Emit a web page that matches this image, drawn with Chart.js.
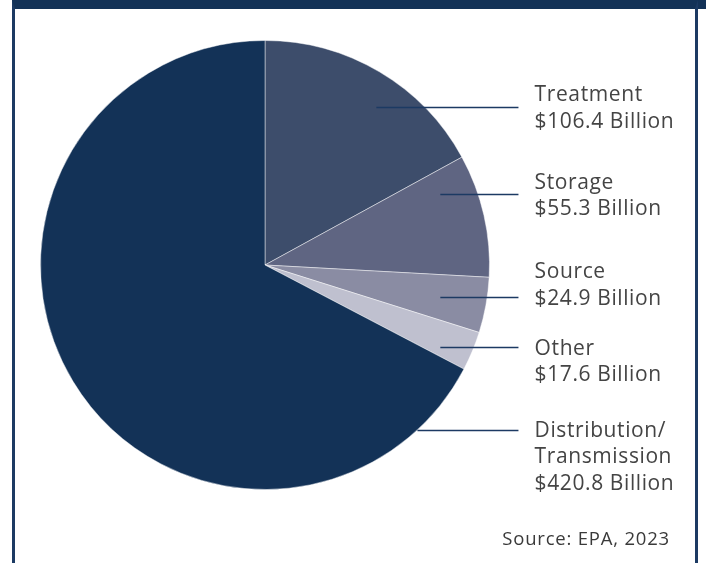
<!DOCTYPE html>
<html>
<head>
<meta charset="utf-8">
<script src="https://cdn.jsdelivr.net/npm/chart.js@4"></script>
<style>
  html, body { margin: 0; padding: 0; background: #fff; }
  #wrap { position: relative; width: 706px; height: 563px; overflow: hidden; }
  #frame {
    position: absolute; left: 12px; top: 0; width: 686px; height: 600px;
    border-top: 9px solid #133257; border-left: 3px solid #1c3a63; border-right: 3px solid #1c3a63;
    box-sizing: border-box;
  }
  #frame::before { content: ""; position: absolute; top: -9px; left: 683px; width: 20px; height: 9px; background: #133257; }
  canvas { position: absolute; left: 0; top: 0; }
</style>
</head>
<body>
<div id="wrap">
  <div id="frame"></div>
  <canvas id="chart" width="706" height="563"></canvas>
</div>
<script>
const categories = ["Treatment", "Storage", "Source", "Other", "Distribution/Transmission"];
const values = [106.4, 55.3, 24.9, 17.6, 420.8];
const colors = ["#3d4d6b", "#5f6582", "#8a8ca3", "#bfc0cf", "#133257"];
const labelLines = [
  ["Treatment", "$106.4 Billion"],
  ["Storage", "$55.3 Billion"],
  ["Source", "$24.9 Billion"],
  ["Other", "$17.6 Billion"],
  ["Distribution/", "Transmission", "$420.8 Billion"]
];
const sourceNote = "Source: EPA, 2023";

// leader line placement, in units of the pie radius (y offset, line start x)
const leaders = [
  { y: -0.703, x0: 0.496, firstLine: -0.053 },
  { y: -0.317, x0: 0.781, firstLine: -0.050 },
  { y: 0.143, x0: 0.781, firstLine: -0.110 },
  { y: 0.366, x0: 0.781, firstLine: 0.008 },
  { y: 0.737, x0: 0.679, firstLine: 0.002 }
];

const calloutPlugin = {
  id: "callouts",
  afterDraw(chart) {
    const arc = chart.getDatasetMeta(0).data[0];
    const cx = arc.x, cy = arc.y, r = arc.outerRadius;
    const ctx = chart.ctx;
    ctx.save();
    leaders.forEach((l, i) => {
      const y = Math.round(cy + l.y * r) + 0.5;
      ctx.strokeStyle = "#1c3a63";
      ctx.lineWidth = 1.6;
      ctx.beginPath();
      ctx.moveTo(cx + l.x0 * r, y);
      ctx.lineTo(cx + 1.129 * r, y);
      ctx.stroke();
      ctx.fillStyle = "#444444";
      ctx.font = "21px 'Open Sans'";
      ctx.letterSpacing = "0.6px";
      ctx.textAlign = "left";
      ctx.textBaseline = "middle";
      const ty = cy + (l.y + l.firstLine) * r;
      labelLines[i].forEach((t, j) => {
        ctx.fillText(t, cx + 1.201 * r, ty + j * 26.5);
      });
    });
    ctx.font = "18.5px 'Open Sans'";
    ctx.letterSpacing = "0.8px";
    ctx.textAlign = "right";
    ctx.fillStyle = "#3a3a3a";
    ctx.fillText(sourceNote, 670, 540);
    ctx.restore();
  }
};

new Chart(document.getElementById("chart"), {
  type: "pie",
  data: {
    labels: categories,
    datasets: [{
      data: values,
      backgroundColor: colors,
      borderColor: "rgba(255,255,255,0.45)",
      borderWidth: 1
    }]
  },
  options: {
    responsive: false,
    animation: false,
    layout: { padding: { left: 40, top: 40, right: 216, bottom: 73 } },
    plugins: { legend: { display: false }, tooltip: { enabled: false } }
  },
  plugins: [calloutPlugin]
});
</script>
</body>
</html>
